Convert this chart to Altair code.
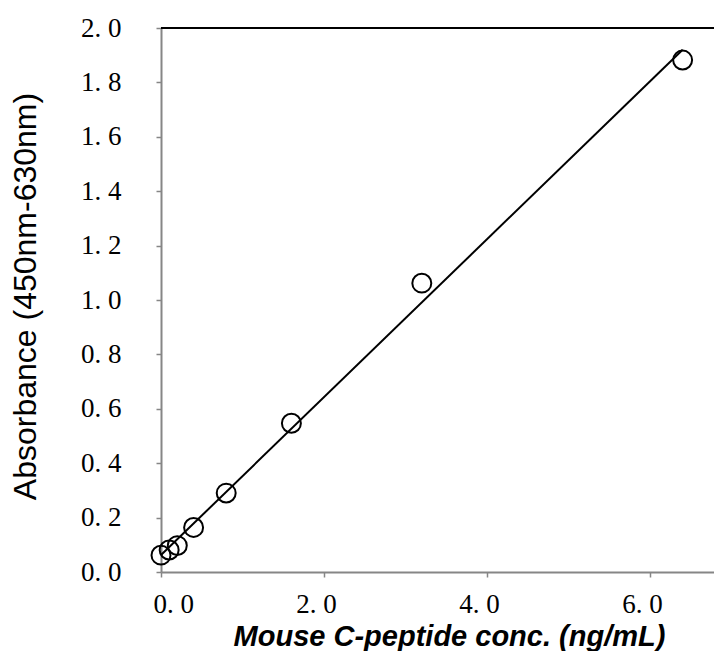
import altair as alt
import pandas as pd

# Standard concentrations (ng/mL) and measured absorbance
conc = [0.0, 0.1, 0.2, 0.4, 0.8, 1.6, 3.2, 6.4]
absorbance = [0.062, 0.081, 0.097, 0.164, 0.290, 0.547, 1.062, 1.882]

x_ticks = [0, 2, 4, 6]
y_ticks = [0.0, 0.2, 0.4, 0.6, 0.8, 1.0, 1.2, 1.4, 1.6, 1.8, 2.0]
y_top = [2.0]

df = pd.DataFrame({"conc": conc, "abs": absorbance})

label_expr = "replace(format(datum.value, '.1f'), '.', '. ')"
axis_gray = "#868686"

xscale = alt.Scale(domain=[0, 6.785], nice=False, zero=False)
yscale = alt.Scale(domain=[0, 2.0], nice=False, zero=False)

x_axis = alt.Axis(
    values=x_ticks, labelExpr=label_expr, title="Mouse C-peptide conc. (ng/mL)",
    grid=False, domainColor=axis_gray, domainWidth=2, tickColor=axis_gray,
    tickWidth=1.5, tickSize=5, labelFont="Liberation Serif", labelFontSize=27,
    labelColor="#000000", labelPadding=14, labelOffset=-8,
    titleFont="Liberation Sans", titleFontSize=29, titleFontWeight="bold",
    titleFontStyle="italic", titleColor="#000000", titleX=288, titleY=73,
    titleAlign="center", titleBaseline="alphabetic",
)
y_axis = alt.Axis(
    values=y_ticks, labelExpr=label_expr, title="Absorbance (450nm-630nm)",
    grid=False, domainColor=axis_gray, domainWidth=2, tickColor=axis_gray,
    tickWidth=1.5, tickSize=5, labelFont="Liberation Serif", labelFontSize=27,
    labelColor="#000000", labelPadding=35,
    titleFont="Liberation Sans", titleFontSize=32, titleFontWeight="normal",
    titleColor="#000000", titleX=-136, titleY=268, titleAngle=270,
    titleAlign="center", titleBaseline="middle",
)

base = alt.Chart(df)

fit = base.transform_regression("conc", "abs", method="linear").mark_line(
    color="black", strokeWidth=2
).encode(
    x=alt.X("conc:Q", scale=xscale, axis=x_axis),
    y=alt.Y("abs:Q", scale=yscale, axis=y_axis),
)

points = base.mark_point(
    shape="circle", filled=False, size=360, stroke="black", strokeWidth=2, opacity=1
).encode(
    x=alt.X("conc:Q", scale=xscale),
    y=alt.Y("abs:Q", scale=yscale),
)

top_line = alt.Chart(pd.DataFrame({"y": y_top})).mark_rule(
    color="black", strokeWidth=2
).encode(y=alt.Y("y:Q", scale=yscale))

chart = alt.layer(fit, points, top_line).properties(
    width=553, height=544,
    autosize=alt.AutoSizeParams(type="none"),
    padding={"left": 153, "top": 20, "right": 0, "bottom": 79},
).configure_view(stroke=None)

chart.save("out.html", embed_options={"renderer": "svg", "actions": False})
